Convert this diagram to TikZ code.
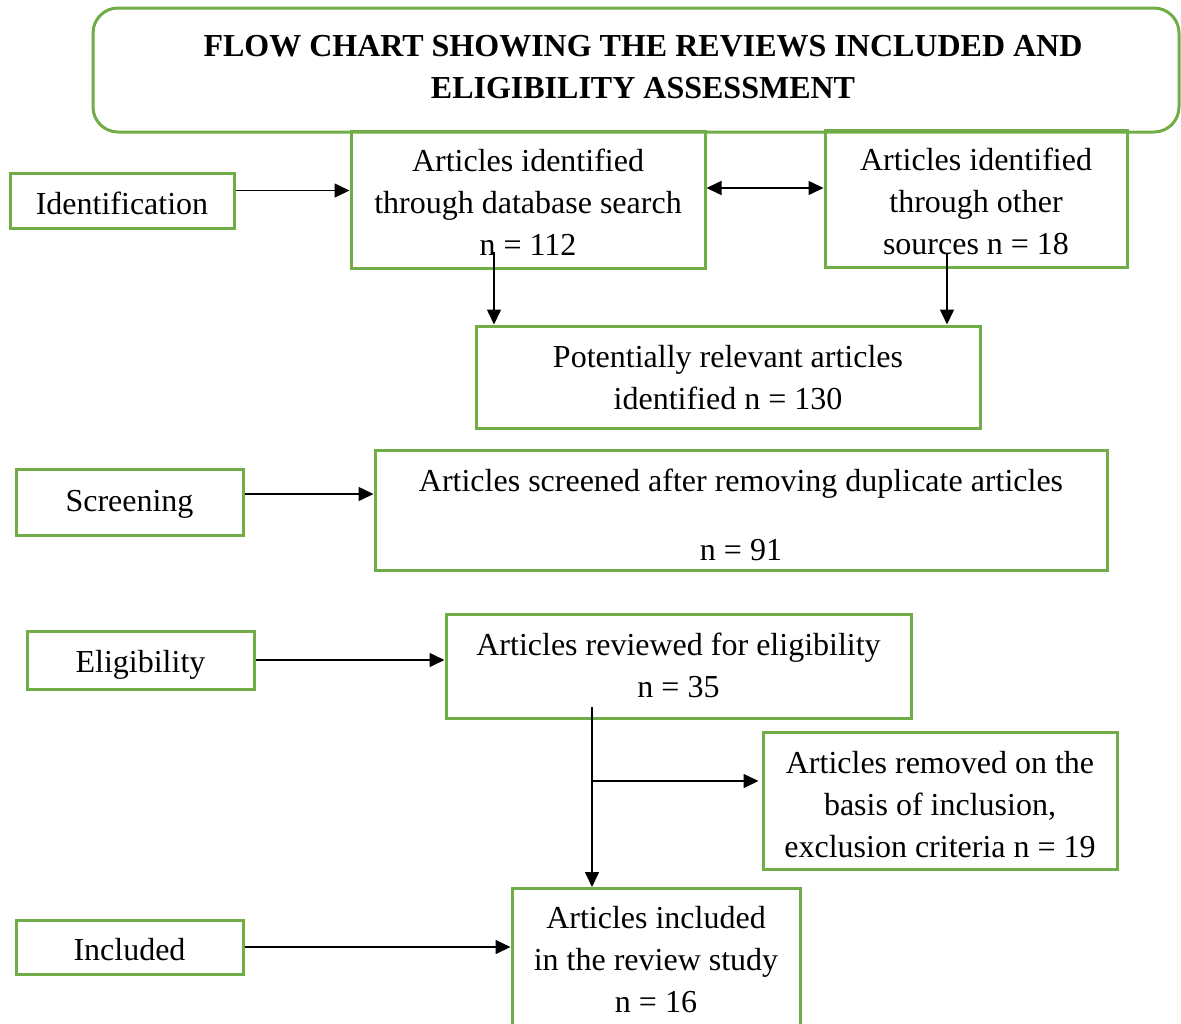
\documentclass[tikz,border=0pt]{standalone}
\usepackage{fontspec}
\setmainfont{Liberation Serif}
\usetikzlibrary{arrows.meta}
\definecolor{grn}{HTML}{70AD47}
\begin{document}
\begin{tikzpicture}[x=0.5pt,y=-0.5pt,
  box/.style={draw=grn,line width=1.5pt,inner sep=0pt},
  txt/.style={inner sep=0pt,align=center,font=\fontsize{16}{21}\selectfont},
  arr/.style={-{Triangle[length=7.5pt,width=7pt]},line width=0.75pt},
  dblarr/.style={{Triangle[length=7.5pt,width=7pt]}-{Triangle[length=7.5pt,width=7pt]},line width=0.75pt}
]
\useasboundingbox (0,0) rectangle (1181,1023);
% title
\node[box,rounded corners=12.5pt,minimum width=543pt,minimum height=62pt] (title) at (636,70) {};
\node[txt,font=\bfseries\fontsize{16}{21}\selectfont] (titlet) at (643,67)
  {FLOW CHART SHOWING THE REVIEWS INCLUDED AND\\ELIGIBILITY ASSESSMENT};
% stage labels
\node[box,minimum width=112pt,minimum height=27.5pt] (ident) at (122,200.5) {};
\node[txt] (identt) at (122,203.5) {Identification};
\node[box,minimum width=113.5pt,minimum height=33pt] (screen) at (129.5,502) {};
\node[txt] (screent) at (129.5,504) {Screening};
\node[box,minimum width=113.5pt,minimum height=29pt] (elig) at (140.5,660) {};
\node[txt] (eligt) at (140.5,665) {Eligibility};
\node[box,minimum width=113.5pt,minimum height=27pt] (incl) at (129.5,947) {};
\node[txt] (inclt) at (129.5,950) {Included};
% main boxes
\node[box,minimum width=177pt,minimum height=68.5pt] (db) at (528,199.5) {};
\node[txt] (dbt) at (528,202.5) {Articles identified\\through database search\\n = 112};
\node[box,minimum width=151pt,minimum height=68.5pt] (other) at (976,198.5) {};
\node[txt] (othert) at (976,201.5) {Articles identified\\through other\\sources n = 18};
\node[box,minimum width=252pt,minimum height=51pt] (pot) at (728,377) {};
\node[txt] (pott) at (728,378) {Potentially relevant articles\\identified n = 130};
\node[box,minimum width=366pt,minimum height=60pt] (scr) at (741,510) {};
\node[txt] (scrt) at (741,515) {Articles screened after removing duplicate articles\\[13.5pt]n = 91};
\node[box,minimum width=232.5pt,minimum height=52pt] (rev) at (678.5,666) {};
\node[txt] (revt) at (678.5,665) {Articles reviewed for eligibility\\n = 35};
\node[box,minimum width=177pt,minimum height=68.5pt] (rem) at (940,800.5) {};
\node[txt] (remt) at (940,805) {Articles removed on the\\basis of inclusion,\\exclusion criteria n = 19};
\node[box,minimum width=144pt,minimum height=74pt,anchor=north] (inc) at (656,887) {};
\node[txt] (inct) at (656,960) {Articles included\\in the review study\\n = 16};
% connectors
\draw[arr] ([yshift=5pt]ident.east) -- ([yshift=5pt]ident.east -| db.west);
\draw[dblarr] ([yshift=5.75pt]db.east) -- ([yshift=5.75pt]db.east -| other.west);
\coordinate (d1) at (494,252);
\coordinate (o1) at (947,253);
\draw[arr] (d1) -- (d1 |- pot.north);
\draw[arr] (o1) -- (o1 |- pot.north);
\draw[arr] ([yshift=4pt]screen.east) -- ([yshift=4pt]screen.east -| scr.west);
\draw[arr] (elig.east) -- (elig.east -| rev.west);
\coordinate (r1) at (592,707);
\coordinate (r2) at (592,781);
\draw[arr] (r1) -- (r1 |- inc.north);
\draw[arr] (r2) -- ([xshift=-1.5pt]r2 -| rem.west);
\draw[arr] (incl.east) -- (incl.east -| inc.west);
\end{tikzpicture}
\end{document}
